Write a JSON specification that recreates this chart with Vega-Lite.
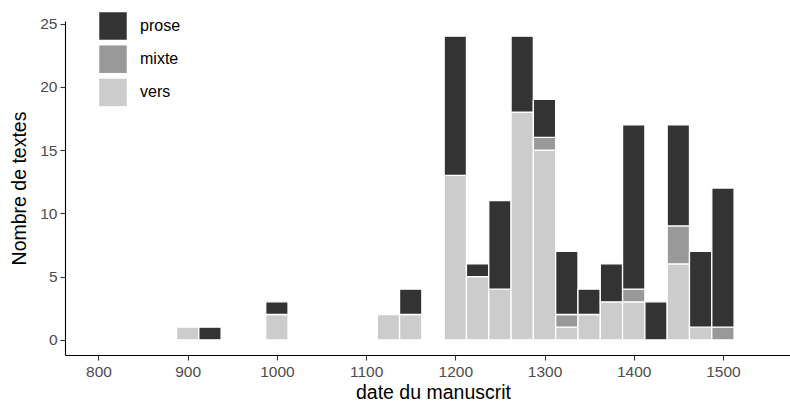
{
  "$schema": "https://vega.github.io/schema/vega-lite/v6.json",
  "autosize": "none",
  "width": 736,
  "height": 334,
  "padding": {"left": 65, "top": 21, "right": 0, "bottom": 48},
  "background": "white",
  "config": {
    "view": {"stroke": null},
    "font": "Liberation Sans",
    "axis": {
      "grid": false,
      "domainColor": "black",
      "domainWidth": 1.1,
      "tickColor": "#333333",
      "tickWidth": 1.1,
      "tickSize": 5,
      "labelColor": "#4d4d4d",
      "labelFontSize": 15.5,
      "labelFont": "Liberation Sans",
      "titleFont": "Liberation Sans",
      "titleFontSize": 19.5,
      "titleFontWeight": "normal",
      "titleColor": "black"
    }
  },
  "data": {
    "values": [
      {"year": 900, "type": "vers", "n": 1},
      {"year": 925, "type": "prose", "n": 1},
      {"year": 1000, "type": "vers", "n": 2},
      {"year": 1000, "type": "prose", "n": 1},
      {"year": 1125, "type": "vers", "n": 2},
      {"year": 1150, "type": "vers", "n": 2},
      {"year": 1150, "type": "prose", "n": 2},
      {"year": 1200, "type": "vers", "n": 13},
      {"year": 1200, "type": "prose", "n": 11},
      {"year": 1225, "type": "vers", "n": 5},
      {"year": 1225, "type": "prose", "n": 1},
      {"year": 1250, "type": "vers", "n": 4},
      {"year": 1250, "type": "prose", "n": 7},
      {"year": 1275, "type": "vers", "n": 18},
      {"year": 1275, "type": "prose", "n": 6},
      {"year": 1300, "type": "vers", "n": 15},
      {"year": 1300, "type": "mixte", "n": 1},
      {"year": 1300, "type": "prose", "n": 3},
      {"year": 1325, "type": "vers", "n": 1},
      {"year": 1325, "type": "mixte", "n": 1},
      {"year": 1325, "type": "prose", "n": 5},
      {"year": 1350, "type": "vers", "n": 2},
      {"year": 1350, "type": "prose", "n": 2},
      {"year": 1375, "type": "vers", "n": 3},
      {"year": 1375, "type": "prose", "n": 3},
      {"year": 1400, "type": "vers", "n": 3},
      {"year": 1400, "type": "mixte", "n": 1},
      {"year": 1400, "type": "prose", "n": 13},
      {"year": 1425, "type": "prose", "n": 3},
      {"year": 1450, "type": "vers", "n": 6},
      {"year": 1450, "type": "mixte", "n": 3},
      {"year": 1450, "type": "prose", "n": 8},
      {"year": 1475, "type": "vers", "n": 1},
      {"year": 1475, "type": "prose", "n": 6},
      {"year": 1500, "type": "mixte", "n": 1},
      {"year": 1500, "type": "prose", "n": 11}
    ]
  },
  "transform": [
    {"calculate": "datum.year - 12.5", "as": "lo"},
    {"calculate": "datum.year + 12.5", "as": "hi"},
    {"calculate": "indexof(['vers','mixte','prose'], datum.type)", "as": "ord"},
    {"stack": "n", "groupby": ["year"], "sort": [{"field": "ord", "order": "ascending"}], "as": ["y0", "y1"]}
  ],
  "mark": {"type": "bar", "stroke": "white", "strokeWidth": 1.3},
  "encoding": {
    "x": {
      "field": "lo",
      "type": "quantitative",
      "scale": {"domain": [762.5, 1587.5], "nice": false, "zero": false},
      "axis": {"values": [800, 900, 1000, 1100, 1200, 1300, 1400, 1500], "format": "d", "labelPadding": 4, "title": "date du manuscrit", "titlePadding": 4}
    },
    "x2": {"field": "hi"},
    "y": {
      "field": "y0",
      "type": "quantitative",
      "scale": {"domain": [-1.2, 25.2], "nice": false, "zero": false},
      "axis": {"values": [0, 5, 10, 15, 20, 25], "labelPadding": 3, "title": "Nombre de textes", "titlePadding": 10}
    },
    "y2": {"field": "y1"},
    "color": {
      "field": "type",
      "type": "nominal",
      "scale": {"domain": ["prose", "mixte", "vers"], "range": ["#333333", "#999999", "#cccccc"]},
      "legend": {
        "title": null,
        "orient": "none",
        "legendX": 34,
        "legendY": -9,
        "padding": 0,
        "symbolType": "square",
        "symbolSize": 756,
        "symbolStrokeWidth": 0,
        "symbolOpacity": 1,
        "rowPadding": 5.2,
        "labelOffset": 13,
        "labelFontSize": 16,
        "labelColor": "black",
        "labelFont": "Liberation Sans"
      }
    }
  }
}
